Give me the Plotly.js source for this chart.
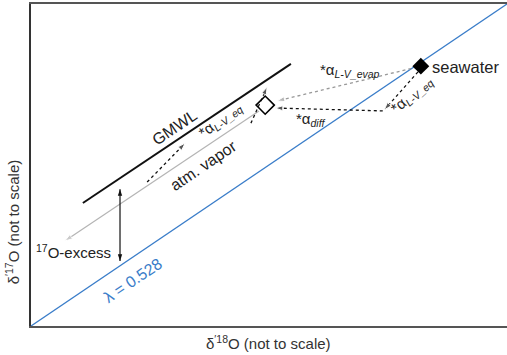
<!DOCTYPE html>
<html><head><meta charset="utf-8">
<script src="https://cdn.plot.ly/plotly-3.0.1.min.js"></script>
<style>html,body{margin:0;padding:0;background:#fff}#chart{width:507px;height:355px}</style>
</head><body><div id="chart"></div>
<script>
// Schematic coordinates (not to scale), axes normalised 0..1
const lambdaX = [0, 1], lambdaY = [0, 1];
const gmwlX = [0.109, 0.546], gmwlY = [0.382, 0.814];
const vaporLineX = [0.479, 0.071], vaporLineY = [0.668, 0.264];
const seawaterX = [0.819], seawaterY = [0.807];
const vaporX = [0.492], vaporY = [0.686];
const excessX = [0.187, 0.187], excessY = [0.425, 0.202];
const evapX = [0.811, 0.517], evapY = [0.804, 0.699];
const eqSeaX = [0.813, 0.742], eqSeaY = [0.789, 0.671];
const diffX = [0.739, 0.513], diffY = [0.668, 0.677];
const eqVapX = [0.462, 0.496], eqVapY = [0.630, 0.742];
const eqGmwlX = [0.244, 0.324], eqGmwlY = [0.447, 0.568];

const labelText = ["GMWL", "atm. vapor", "<sup>17</sup>O-excess", "λ = 0.528", "seawater",
  "*α<sub><i>L-V_evap</i></sub>", "*α<sub><i>diff</i></sub>", "*α<sub><i>L-V_eq</i></sub>", "*α<sub><i>L-V_eq</i></sub>"];
const labelX = [0.302, 0.362, 0.090, 0.214, 0.913, 0.670, 0.588, 0.800, 0.399];
const labelY = [0.615, 0.500, 0.230, 0.140, 0.805, 0.792, 0.640, 0.720, 0.640];
const labelAngle = [-34, -34, 0, -34, 0, 0, 0, -42, -38];
const labelSize = [16, 16, 15, 16, 16.5, 15, 15, 15, 15];

const xTitle = "δ<sup>′18</sup>O (not to scale)";
const yTitle = "δ<sup>′17</sup>O (not to scale)";

const FONT = "Liberation Sans, Arial, sans-serif";
function arrowTrace(x, y, color, dash, width) {
  return {x: x, y: y, mode: "lines+markers", hoverinfo: "skip",
    line: {color: color, width: width, dash: dash},
    marker: {symbol: ["circle", "arrow"], size: [0, 8], angleref: "previous", color: color}};
}
const traces = [
  {x: lambdaX, y: lambdaY, mode: "lines", line: {color: "#3a7dc9", width: 1.3}},
  {x: gmwlX, y: gmwlY, mode: "lines", line: {color: "#111", width: 2}},
  arrowTrace(vaporLineX, vaporLineY, "#b4b4b4", "solid", 1.2),
  {x: excessX, y: excessY, mode: "lines+markers", line: {color: "#111", width: 1.2},
   marker: {symbol: "arrow", size: 7, angle: [0, 180], color: "#111"}},
  arrowTrace(evapX, evapY, "#999", "dot", 1.3),
  arrowTrace(eqSeaX, eqSeaY, "#111", "dot", 1.3),
  arrowTrace(diffX, diffY, "#111", "dot", 1.3),
  arrowTrace(eqVapX, eqVapY, "#111", "dot", 1.3),
  arrowTrace(eqGmwlX, eqGmwlY, "#111", "dot", 1.3),
  {x: seawaterX, y: seawaterY, mode: "markers", marker: {symbol: "diamond", size: 13, color: "#000"}},
  {x: vaporX, y: vaporY, mode: "markers", marker: {symbol: "diamond-open", size: 14, color: "#000", line: {width: 1.6}}}
];
const annotations = labelText.map((t, i) => ({
  x: labelX[i], y: labelY[i], xref: "x", yref: "y", text: t, showarrow: false,
  xanchor: "center", yanchor: "middle",
  textangle: labelAngle[i], font: {family: FONT, size: labelSize[i], color: i === 3 ? "#3a7dc9" : "#222"}
}));
annotations.push({xref: "paper", yref: "paper", x: 0.499, y: -0.05, xanchor: "center", yanchor: "middle",
  text: xTitle, showarrow: false, font: {family: FONT, size: 15, color: "#333"}});
annotations.push({xref: "paper", yref: "paper", x: -0.04, y: 0.325, xanchor: "center", yanchor: "middle",
  text: yTitle, showarrow: false, textangle: -90, font: {family: FONT, size: 15, color: "#333"}});
const ax = {range: [0, 1], showgrid: false, zeroline: false, showticklabels: false, ticks: "",
  showline: true, linewidth: 2, fixedrange: true};
const layout = {
  width: 507, height: 355, showlegend: false,
  margin: {l: 31, r: 0, t: 4, b: 29},
  paper_bgcolor: "#fff", plot_bgcolor: "#fff",
  font: {family: FONT, color: "#333"},
  xaxis: Object.assign({}, ax, {linecolor: "#555", mirror: true}),
  yaxis: Object.assign({}, ax, {linecolor: "#333", mirror: false}),
  annotations: annotations
};
Plotly.newPlot("chart", traces, layout, {staticPlot: true, displayModeBar: false});
</script></body></html>
